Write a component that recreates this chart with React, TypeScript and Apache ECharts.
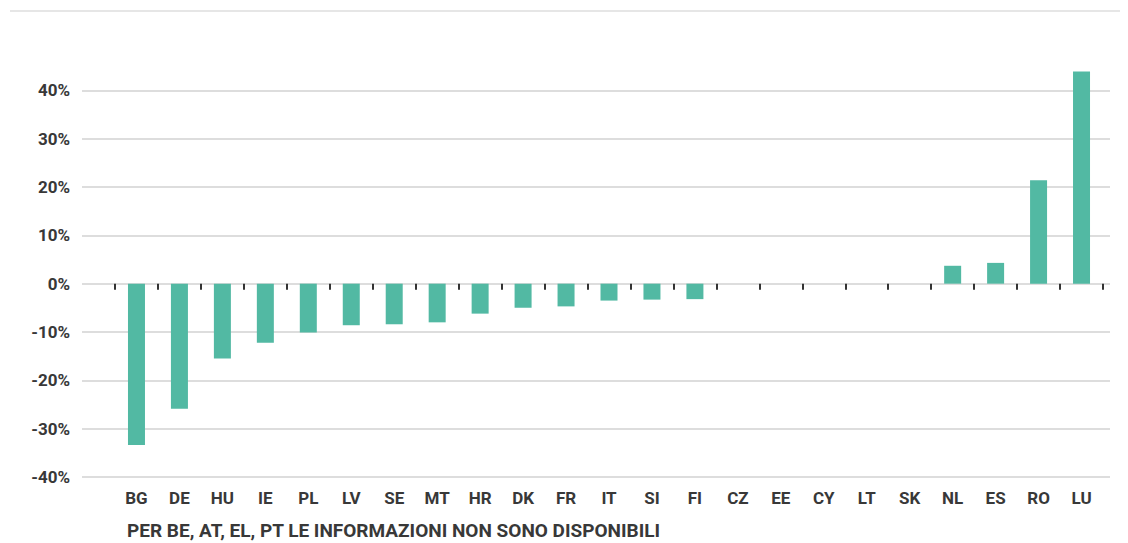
import React, { useEffect, useRef } from "react";
import * as echarts from "echarts";

const categories = ["BG","DE","HU","IE","PL","LV","SE","MT","HR","DK","FR","IT","SI","FI","CZ","EE","CY","LT","SK","NL","ES","RO","LU"];
const values = [-33.4,-25.9,-15.5,-12.2,-10.1,-8.6,-8.4,-8.0,-6.2,-5.0,-4.7,-3.5,-3.3,-3.2,0,0,0,0,0,3.7,4.3,21.4,43.9];
const yMin = -40;
const yMax = 50;
const yStep = 10;
const footnote = "PER BE, AT, EL, PT LE INFORMAZIONI NON SONO DISPONIBILI";

const FONT = "Roboto";
const TEXT = "#383838";

export default function App() {
  const ref = useRef<HTMLDivElement>(null);
  useEffect(() => {
    const chart = echarts.init(ref.current!, null, { renderer: "svg" });
    chart.setOption({
      animation: false,
      grid: [
        { left: 74, right: 10, top: 34, bottom: 66 },
        { left: 107, right: 17, top: 34, bottom: 66 },
      ],
      xAxis: [
        { gridIndex: 0, type: "value", show: false, min: 0, max: 1 },
        {
          gridIndex: 1, type: "category", data: categories,
          axisLine: { show: false, onZero: true },
          axisTick: { show: true, length: 6, lineStyle: { color: "#333", width: 2 } },
          axisLabel: { show: false },
        },
        {
          gridIndex: 1, type: "category", data: categories, position: "bottom",
          axisLine: { show: false, onZero: false },
          axisTick: { show: false },
          axisLabel: { show: true, margin: 12, color: TEXT, fontFamily: FONT, fontWeight: "bold", fontSize: 17 },
        },
      ],
      yAxis: [
        {
          gridIndex: 0, type: "value", min: yMin, max: yMax, interval: yStep,
          axisLine: { show: false }, axisTick: { show: false },
          axisLabel: { margin: 12, showMaxLabel: false, color: TEXT, fontFamily: FONT, fontWeight: "bold", fontSize: 17, formatter: (v: number) => v + "%" },
          splitLine: { showMaxLine: false, lineStyle: { color: "#dddddd", width: 2 } },
        },
        {
          gridIndex: 1, type: "value", min: yMin, max: yMax, interval: yStep,
          show: false, splitLine: { show: false },
        },
      ],
      series: [
        {
          type: "bar", xAxisIndex: 1, yAxisIndex: 1, data: values,
          barWidth: 17, itemStyle: { color: "#52b9a3" },
        },
      ],
      graphic: [
        { type: "line", shape: { x1: 2, y1: 3, x2: 1112, y2: 3 }, style: { stroke: "#e6e6e6", lineWidth: 2 } },
        {
          type: "text", left: 119, top: 513,
          style: { text: footnote, fill: TEXT, font: `bold 19px ${FONT}` },
        },
      ],
    });
    return () => chart.dispose();
  }, []);
  return <div ref={ref} style={{ width: 1112, height: 535 }} />;
}
